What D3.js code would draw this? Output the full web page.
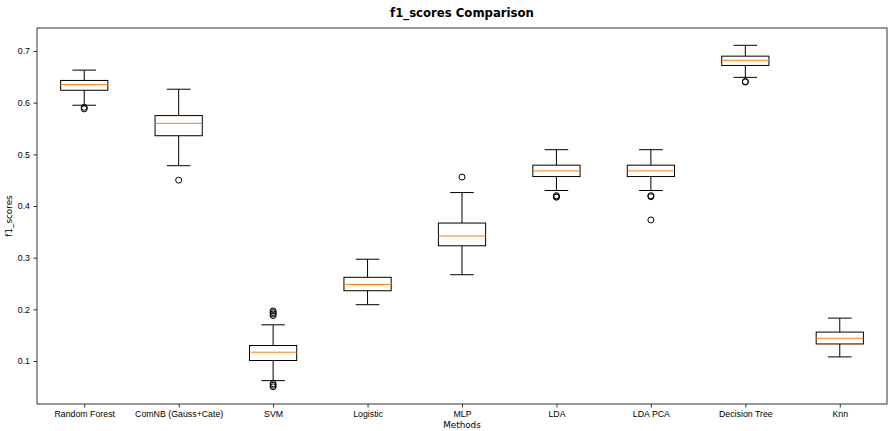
<!DOCTYPE html>
<html>
<head>
<meta charset="utf-8">
<script src="https://cdn.jsdelivr.net/npm/d3@7"></script>
<style>
  html, body { margin: 0; padding: 0; background: #fff; }
  svg { display: block; font-family: "DejaVu Sans", sans-serif; }
</style>
</head>
<body>
<svg id="chart" width="888" height="431"></svg>
<script>
// Box statistics per method
const methods = ["Random Forest", "ComNB (Gauss+Cate)", "SVM", "Logistic", "MLP",
                 "LDA", "LDA PCA", "Decision Tree", "Knn"];
const whiskerLow  = [0.595, 0.478, 0.062, 0.209, 0.267, 0.430, 0.430, 0.649, 0.108];
const q1          = [0.624, 0.536, 0.101, 0.236, 0.323, 0.457, 0.457, 0.672, 0.133];
const medians     = [0.635, 0.560, 0.117, 0.248, 0.342, 0.468, 0.468, 0.682, 0.144];
const q3          = [0.643, 0.575, 0.130, 0.262, 0.367, 0.479, 0.479, 0.690, 0.156];
const whiskerHigh = [0.663, 0.626, 0.170, 0.297, 0.426, 0.509, 0.509, 0.711, 0.183];
const outliers    = [
  [0.591, 0.588],
  [0.450],
  [0.197, 0.194, 0.191, 0.188, 0.056, 0.053, 0.050],
  [],
  [0.456],
  [0.420, 0.418, 0.417],
  [0.420, 0.418, 0.373],
  [0.641, 0.640],
  []
];
const yTicks = [0.1, 0.2, 0.3, 0.4, 0.5, 0.6, 0.7];

const svg = d3.select("#chart");
const margin = { left: 37, right: 1, top: 28, bottom: 27 };
const W = 888, H = 431;

const x = d3.scaleLinear().domain([0.5, methods.length + 0.5])
  .range([margin.left, W - margin.right]);
const y = d3.scaleLinear().domain([0.0168, 0.7445])
  .range([H - margin.bottom, margin.top]);

const boxHalf = 0.25;
const capHalf = 0.125;
const ink = "#000";
const labelSize = "8.8px";

const g = svg.append("g");

methods.forEach((m, i) => {
  const cx = i + 1;
  const grp = g.append("g");
  // whiskers
  grp.append("line")
    .attr("x1", x(cx)).attr("x2", x(cx))
    .attr("y1", y(q1[i])).attr("y2", y(whiskerLow[i]))
    .attr("stroke", ink).attr("stroke-width", 1);
  grp.append("line")
    .attr("x1", x(cx)).attr("x2", x(cx))
    .attr("y1", y(q3[i])).attr("y2", y(whiskerHigh[i]))
    .attr("stroke", ink).attr("stroke-width", 1);
  // caps
  [whiskerLow[i], whiskerHigh[i]].forEach(v => {
    grp.append("line")
      .attr("x1", x(cx - capHalf)).attr("x2", x(cx + capHalf))
      .attr("y1", y(v)).attr("y2", y(v))
      .attr("stroke", ink).attr("stroke-width", 1);
  });
  // box
  grp.append("rect")
    .attr("x", x(cx - boxHalf))
    .attr("width", x(cx + boxHalf) - x(cx - boxHalf))
    .attr("y", y(q3[i]))
    .attr("height", y(q1[i]) - y(q3[i]))
    .attr("fill", "none").attr("stroke", ink).attr("stroke-width", 1);
  // median
  grp.append("line")
    .attr("x1", x(cx - boxHalf)).attr("x2", x(cx + boxHalf))
    .attr("y1", y(medians[i])).attr("y2", y(medians[i]))
    .attr("stroke", "#ff7f0e").attr("stroke-width", 1);
  // fliers
  grp.selectAll("circle").data(outliers[i]).join("circle")
    .attr("cx", x(cx)).attr("cy", d => y(d)).attr("r", 3)
    .attr("fill", "none").attr("stroke", ink).attr("stroke-width", 1);
});

// Axes
const xAxis = d3.axisBottom(x)
  .tickValues(d3.range(1, methods.length + 1))
  .tickFormat(d => methods[d - 1])
  .tickSize(3.5).tickPadding(3.5);
const yAxis = d3.axisLeft(y)
  .tickValues(yTicks)
  .tickFormat(d3.format(".1f"))
  .tickSize(3.5).tickPadding(3.5);

const gx = svg.append("g")
  .attr("transform", `translate(0,${H - margin.bottom})`)
  .call(xAxis);
const gy = svg.append("g")
  .attr("transform", `translate(${margin.left},0)`)
  .call(yAxis);

[gx, gy].forEach(a => {
  a.select(".domain").remove();
  a.selectAll(".tick line").attr("stroke", ink).attr("stroke-width", 0.8);
  a.selectAll(".tick text").attr("fill", ink).style("font-size", labelSize);
});

// Frame
svg.append("rect")
  .attr("x", margin.left).attr("y", margin.top)
  .attr("width", W - margin.right - margin.left)
  .attr("height", H - margin.bottom - margin.top)
  .attr("fill", "none").attr("stroke", ink).attr("stroke-width", 0.8);

// Labels
svg.append("text")
  .attr("x", (margin.left + W - margin.right) / 2).attr("y", 17)
  .attr("text-anchor", "middle")
  .style("font-size", "11.7px").style("font-weight", "bold")
  .text("f1_scores Comparison");

svg.append("text")
  .attr("x", (margin.left + W - margin.right) / 2).attr("y", 428)
  .attr("text-anchor", "middle")
  .style("font-size", labelSize)
  .text("Methods");

svg.append("text")
  .attr("transform", `translate(12,${(margin.top + H - margin.bottom) / 2}) rotate(-90)`)
  .attr("text-anchor", "middle")
  .style("font-size", labelSize)
  .text("f1_scores");
</script>
</body>
</html>
